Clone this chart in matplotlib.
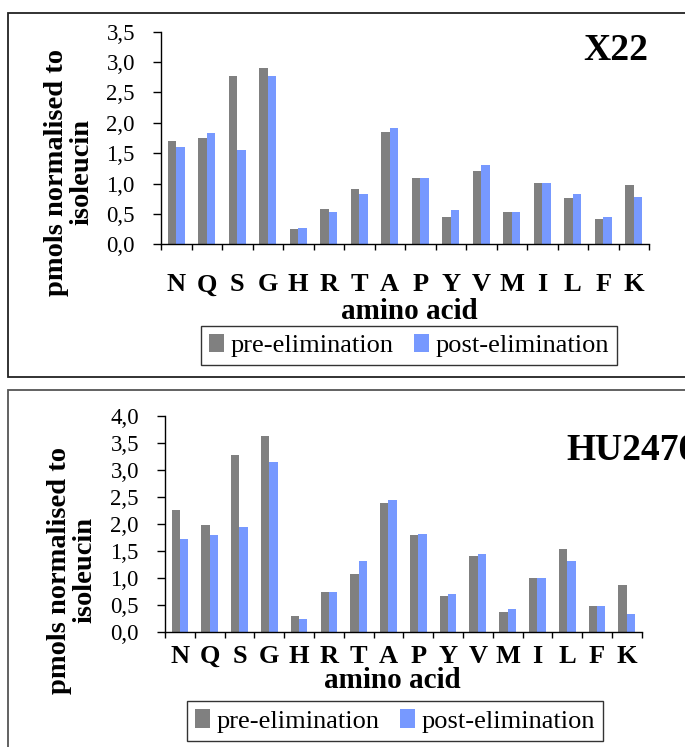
import numpy as np
import matplotlib
matplotlib.use("Agg")
import matplotlib.pyplot as plt
import matplotlib.ticker as ticker
from matplotlib.lines import Line2D

plt.rcParams['font.family'] = ['Liberation Serif', 'DejaVu Serif']

acids = ['N', 'Q', 'S', 'G', 'H', 'R', 'T', 'A', 'P', 'Y', 'V', 'M', 'I', 'L', 'F', 'K']
x22_pre = [1.70, 1.75, 2.77, 2.90, 0.25, 0.58, 0.91, 1.85, 1.09, 0.45, 1.21, 0.53, 1.01, 0.76, 0.42, 0.98]
x22_post = [1.60, 1.83, 1.55, 2.77, 0.27, 0.53, 0.83, 1.92, 1.09, 0.56, 1.31, 0.53, 1.01, 0.83, 0.45, 0.78]
hu_pre = [2.26, 1.99, 3.28, 3.62, 0.30, 0.75, 1.08, 2.38, 1.79, 0.67, 1.41, 0.38, 1.00, 1.54, 0.49, 0.88]
hu_post = [1.73, 1.80, 1.95, 3.15, 0.25, 0.75, 1.32, 2.45, 1.82, 0.71, 1.45, 0.43, 1.00, 1.32, 0.49, 0.34]
series_names = ['pre-elimination', 'post-elimination']

W, H = 685, 747
PRE_COLOR = '#808080'
POST_COLOR = '#7799ff'


def fx(px):
    return px / W


def fy(py):
    return 1 - py / H


def comma_fmt(v, pos):
    return "{0:.1f}".format(v).replace(".", ",")


def draw_panel(fig, rect, pre, post, ymax, title, title_xy, title_ha,
               label_pad, ylabel_xy, xlabel_xy, legend_xy):
    left, top, right, bottom = rect
    ax = fig.add_axes([fx(left), fy(bottom), fx(right - left), (bottom - top) / H])
    x = np.arange(len(acids))
    w = 0.28
    ax.bar(x - w / 2, pre, width=w, color=PRE_COLOR, label=series_names[0])
    ax.bar(x + w / 2, post, width=w, color=POST_COLOR, label=series_names[1])
    ax.set_xlim(-0.5, len(acids) - 0.5)
    ax.set_ylim(0, ymax)
    ax.spines['top'].set_visible(False)
    ax.spines['right'].set_visible(False)
    for s in ('left', 'bottom'):
        ax.spines[s].set_linewidth(1.0)

    ax.yaxis.set_major_locator(ticker.MultipleLocator(0.5))
    ax.yaxis.set_major_formatter(ticker.FuncFormatter(comma_fmt))
    ax.tick_params(axis='y', direction='out', length=5.8, width=1.0, pad=13, labelsize=16.5)

    # labels at category centres, tick marks at the boundaries
    ax.set_xticks(x)
    ax.set_xticklabels(acids, fontweight='bold', fontsize=19)
    ax.tick_params(axis='x', which='major', length=0, pad=label_pad)
    ax.set_xticks(np.arange(len(acids) + 1) - 0.5, minor=True)
    ax.tick_params(axis='x', which='minor', direction='out', length=4, width=1.0)

    fig.text(fx(xlabel_xy[0]), fy(xlabel_xy[1]), "amino acid", ha='center', va='center',
             fontsize=21, fontweight='bold')
    fig.text(fx(ylabel_xy[0]), fy(ylabel_xy[1]), "pmols normalised to\nisoleucin",
             rotation=90, ha='center', va='center', multialignment='center',
             fontsize=20.5, fontweight='bold', linespacing=1.0)
    fig.text(fx(title_xy[0]), fy(title_xy[1]), title, ha=title_ha, va='center',
             fontsize=27, fontweight='bold')

    leg = fig.legend(loc='center', bbox_to_anchor=(fx(legend_xy[0]), fy(legend_xy[1])),
                     ncol=2, fontsize=19, frameon=True, fancybox=False,
                     handlelength=0.55, handleheight=0.7, handletextpad=0.25,
                     columnspacing=0.8, borderpad=0.3, borderaxespad=0,
                     handles=ax.patches[:1] + ax.patches[len(acids):len(acids) + 1],
                     labels=series_names)
    leg.get_frame().set_edgecolor('black')
    leg.get_frame().set_linewidth(1.0)
    return ax


fig = plt.figure(figsize=(W / 100, H / 100), dpi=100)

draw_panel(fig, (161, 31.7, 649, 244.3), x22_pre, x22_post, 3.5,
           "X22", (648, 50), 'right', 21,
           (69, 172), (409, 311), (409, 345.5))
draw_panel(fig, (165, 415.7, 641.7, 632.3), hu_pre, hu_post, 4.0,
           "HU2470", (566, 451), 'left', 9,
           (72, 570), (392, 680), (395, 721))

# frames around the two panels (they run off the right edge of the page)
frame_kw = dict(transform=fig.transFigure, linewidth=1.3, solid_joinstyle='miter')
fig.add_artist(Line2D([fx(700), fx(8), fx(8), fx(700)],
                      [fy(12.7), fy(12.7), fy(377), fy(377)], color='#222222', **frame_kw))
fig.add_artist(Line2D([fx(700), fx(8), fx(8)],
                      [fy(390), fy(390), fy(760)], color='#555555', **frame_kw))

fig.savefig("out.png", dpi=100)
